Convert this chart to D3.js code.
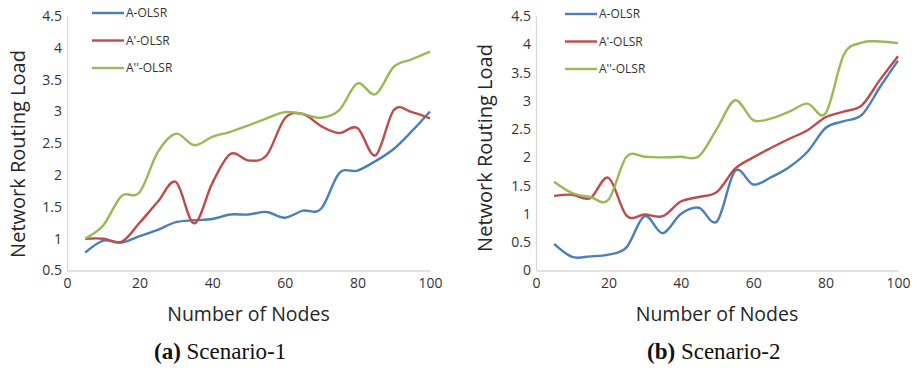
<!DOCTYPE html>
<html>
<head>
<meta charset="utf-8">
<script src="https://cdn.jsdelivr.net/npm/d3@7/dist/d3.min.js"></script>
<style>
  html, body { margin: 0; padding: 0; background: #fff; }
  svg { display: block; }
</style>
</head>
<body>
<svg id="chart" width="917" height="368"></svg>
<script>
// ---- Data ----
const nodes = [5, 10, 15, 20, 25, 30, 35, 40, 45, 50, 55, 60, 65, 70, 75, 80, 85, 90, 95, 100];
const seriesNames = ["A-OLSR", "A'-OLSR", "A''-OLSR"];

// Scenario-1
const s1_A  = [0.78, 0.97, 0.94, 1.04, 1.14, 1.26, 1.29, 1.31, 1.38, 1.38, 1.42, 1.33, 1.44, 1.47, 2.03, 2.07, 2.22, 2.41, 2.69, 3.00];
const s1_A1 = [1.00, 1.00, 0.95, 1.25, 1.58, 1.89, 1.24, 1.87, 2.33, 2.23, 2.31, 2.89, 2.96, 2.77, 2.66, 2.74, 2.31, 3.02, 2.99, 2.89];
const s1_A2 = [1.00, 1.21, 1.67, 1.73, 2.36, 2.65, 2.47, 2.60, 2.68, 2.78, 2.89, 2.99, 2.96, 2.90, 3.02, 3.44, 3.27, 3.70, 3.82, 3.94];

// Scenario-2
const s2_A  = [0.47, 0.24, 0.25, 0.28, 0.41, 0.96, 0.66, 1.00, 1.11, 0.87, 1.76, 1.52, 1.65, 1.83, 2.10, 2.52, 2.64, 2.75, 3.24, 3.71];
const s2_A1 = [1.32, 1.34, 1.28, 1.64, 0.97, 0.99, 0.96, 1.22, 1.30, 1.39, 1.80, 2.00, 2.17, 2.33, 2.48, 2.71, 2.81, 2.92, 3.37, 3.79];
const s2_A2 = [1.57, 1.37, 1.30, 1.25, 2.01, 2.01, 2.00, 2.01, 2.02, 2.51, 3.01, 2.66, 2.69, 2.81, 2.95, 2.78, 3.81, 4.03, 4.05, 4.02];

const xTicks = [0, 20, 40, 60, 80, 100];
const yTicks1 = [0.5, 1, 1.5, 2, 2.5, 3, 3.5, 4, 4.5];
const yTicks2 = [0, 0.5, 1, 1.5, 2, 2.5, 3, 3.5, 4, 4.5];
const xTitle = "Number of Nodes";
const yTitle = "Network Routing Load";

// ---- Styles ----
const colors = ["#4a7ebb", "#be4b48", "#98b954"];
const sansFont = "'Open Sans', 'Liberation Sans', sans-serif";
const serifFont = "'Liberation Serif', 'DejaVu Serif', serif";

const svg = d3.select("#chart");

function drawPanel(cfg) {
  const x = d3.scaleLinear().domain([0, 100]).range([cfg.x0, cfg.x1]);
  const y = d3.scaleLinear().domain(cfg.yDomain).range([270.5, 16]);
  const g = svg.append("g");

  // axes
  const yAxis = d3.axisLeft(y).tickValues(cfg.yTicks).tickSize(0).tickPadding(5)
    .tickFormat(d3.format("~g"));
  const gy = g.append("g").attr("transform", `translate(${cfg.x0},0)`).call(yAxis);
  const xAxis = d3.axisBottom(x).tickValues(xTicks).tickSize(0).tickPadding(8);
  const gx = g.append("g").attr("transform", `translate(0,270.5)`).call(xAxis);
  [gx, gy].forEach(a => {
    a.select(".domain").attr("stroke", "#d9d9d9").attr("stroke-width", 1.3);
    a.selectAll("text").attr("font-family", sansFont).attr("font-size", 14).attr("fill", "#333");
  });

  // lines
  const line = d3.line()
    .x((d, i) => x(nodes[i]))
    .y(d => y(d))
    .curve(d3.curveCardinal.tension(0));
  cfg.series.forEach((s, k) => {
    g.append("path").datum(s)
      .attr("fill", "none")
      .attr("stroke", colors[k])
      .attr("stroke-width", 2.4)
      .attr("stroke-linejoin", "round")
      .attr("d", line);
  });

  // legend
  seriesNames.forEach((name, k) => {
    const ly = cfg.legendY[k];
    g.append("line")
      .attr("x1", cfg.legendX).attr("x2", cfg.legendX + 32)
      .attr("y1", ly).attr("y2", ly)
      .attr("stroke", colors[k]).attr("stroke-width", 2.4);
    g.append("text")
      .attr("x", cfg.legendX + 34).attr("y", ly)
      .attr("dy", "0.35em")
      .attr("font-family", sansFont).attr("font-size", 12).attr("fill", "#333")
      .text(name);
  });

  // titles
  g.append("text")
    .attr("x", (cfg.x0 + cfg.x1) / 2).attr("y", 321)
    .attr("text-anchor", "middle")
    .attr("font-family", sansFont).attr("font-size", 19.5).attr("fill", "#262626")
    .text(xTitle);
  g.append("text")
    .attr("transform", `translate(${cfg.yTitleX},${cfg.yTitleY}) rotate(-90)`)
    .attr("text-anchor", "middle")
    .attr("font-family", sansFont).attr("font-size", 20).attr("fill", "#262626")
    .text(yTitle);

  // caption
  const cap = g.append("text")
    .attr("x", cfg.capX).attr("y", 359)
    .attr("font-family", serifFont).attr("font-size", 23).attr("fill", "#111");
  cap.append("tspan").attr("font-weight", "bold").text(cfg.capLabel);
  cap.append("tspan").text(" " + cfg.capText);
}

drawPanel({
  x0: 67, x1: 430, yDomain: [0.5, 4.5], yTicks: yTicks1,
  series: [s1_A, s1_A1, s1_A2],
  legendX: 92, legendY: [13, 40.5, 68],
  yTitleX: 25, yTitleY: 154,
  capX: 154, capLabel: "(a)", capText: "Scenario-1"
});

drawPanel({
  x0: 536, x1: 898, yDomain: [0, 4.5], yTicks: yTicks2,
  series: [s2_A, s2_A1, s2_A2],
  legendX: 565, legendY: [14, 41.5, 69],
  yTitleX: 492, yTitleY: 148,
  capX: 647, capLabel: "(b)", capText: "Scenario-2"
});
</script>
</body>
</html>
